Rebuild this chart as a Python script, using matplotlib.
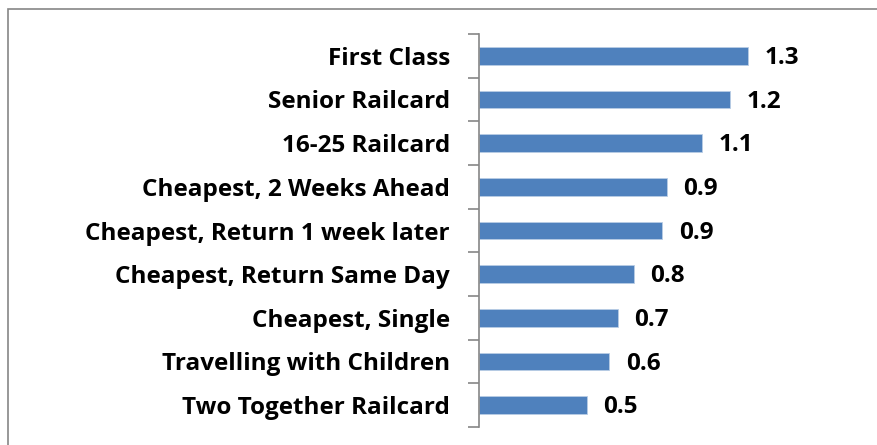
import matplotlib.pyplot as plt
from matplotlib.patches import Rectangle
import numpy as np

# categories from top to bottom
categories = [
    "First Class",
    "Senior Railcard",
    "16-25 Railcard",
    "Cheapest, 2 Weeks Ahead",
    "Cheapest, Return 1 week later",
    "Cheapest, Return Same Day",
    "Cheapest, Single",
    "Travelling with Children",
    "Two Together Railcard",
]
values = [1.306, 1.217, 1.080, 0.910, 0.889, 0.752, 0.673, 0.632, 0.524]

W, H = 877, 445
fig = plt.figure(figsize=(W / 100, H / 100), dpi=100)
# plot area in pixels: left 479, top 34, bottom 427
x0, y0, y1 = 479, 34, 427
x1 = 479 + 1.8 / 0.00485
ax = fig.add_axes([x0 / W, 1 - y1 / H, (x1 - x0) / W, (y1 - y0) / H])

pos = np.arange(len(categories))[::-1]
ax.barh(pos, values, height=0.4, color="#4f81bd", edgecolor="#b9cde5", linewidth=0.6)
for p, v in zip(pos, values):
    ax.text(v + 0.08, p - 0.05, f"{v:.1f}", va="center", ha="left",
            fontsize=17.5, fontweight="bold", family="Open Sans")

ax.set_xlim(0, 1.8)
ax.set_ylim(-0.5, len(categories) - 0.5)
ax.set_yticks(pos)
ax.set_yticklabels(categories, fontsize=17.5, fontweight="bold", family="Open Sans")
ax.set_yticks(np.arange(-0.5, len(categories), 1), minor=True)
ax.tick_params(axis="y", which="major", length=0, pad=21)
ax.tick_params(axis="y", which="minor", length=8, width=1.2, color="#868686")
ax.set_xticks([])
for s in ["top", "right", "bottom"]:
    ax.spines[s].set_visible(False)
ax.spines["left"].set_color("#868686")
ax.spines["left"].set_linewidth(1.2)

# outer chart border
fig.patches.append(Rectangle((8 / W, -0.1), 1.2, 1 - 9 / H + 0.1, transform=fig.transFigure,
                             fill=False, edgecolor="#868686", linewidth=1.2))

fig.savefig("out.png", dpi=100)
